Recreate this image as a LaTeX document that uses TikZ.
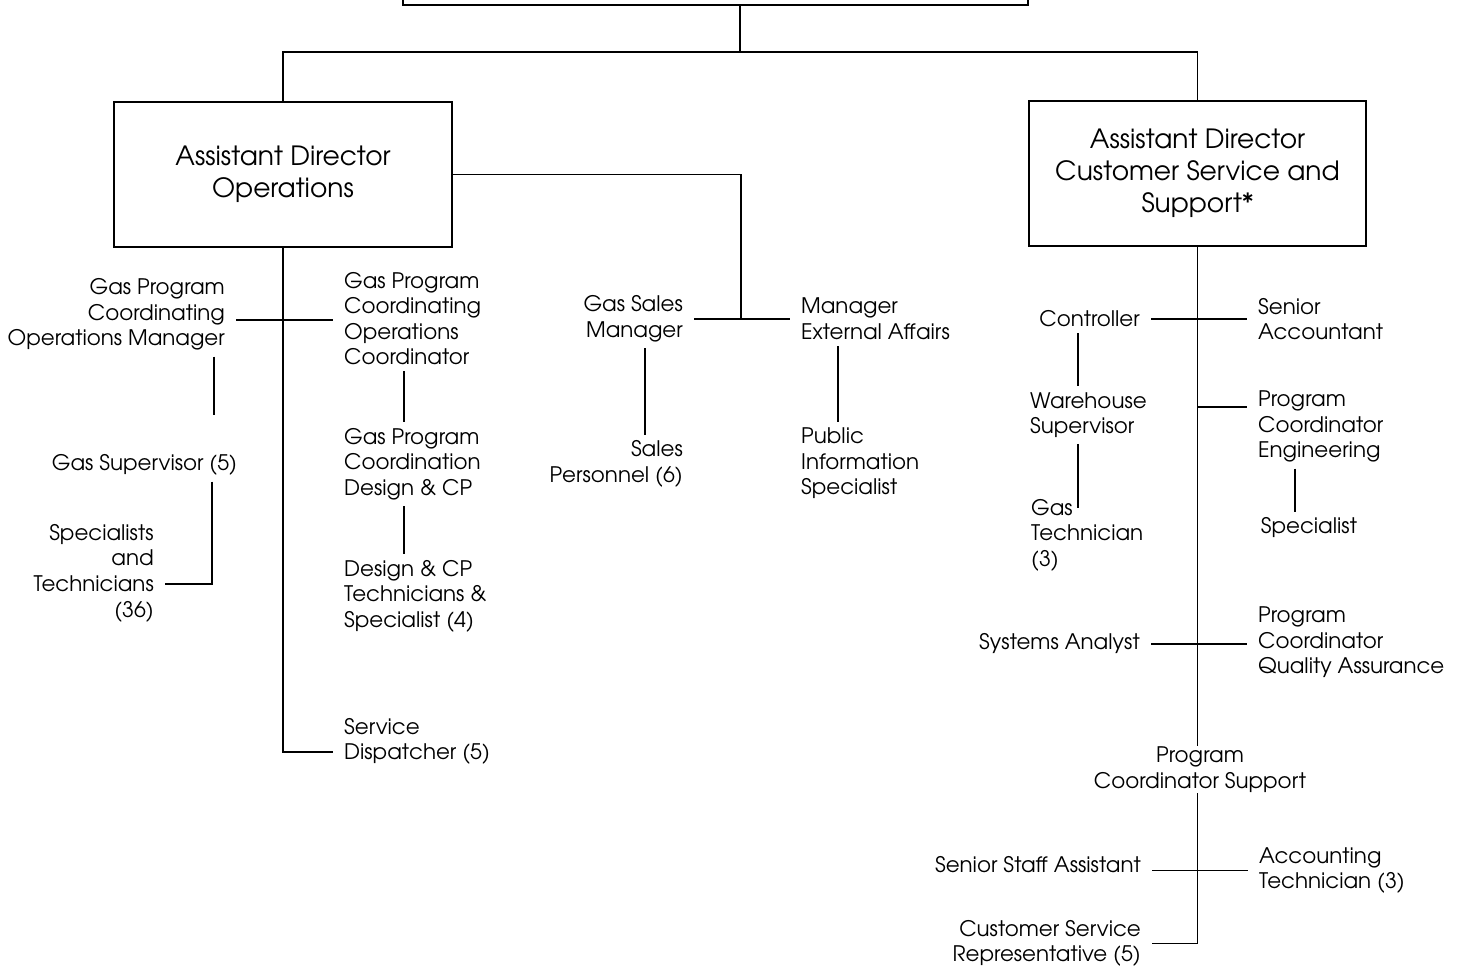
\documentclass[tikz,border=0pt]{standalone}
\usepackage{fontspec}
\setmainfont{TeX Gyre Adventor}
\usepackage{tikz}
\usetikzlibrary{positioning}

\begin{document}
\begin{tikzpicture}[x=1pt,y=-1pt,
    every node/.style={font=\fontsize{21.4}{25.6}\selectfont},
    box/.style={draw,line width=1.6pt,minimum width=338pt,minimum height=145pt,
      align=center,font=\fontsize{26.5}{32}\selectfont},
    lbl/.style={inner xsep=11pt,inner ysep=6pt},
    link/.style={line width=1.1pt}]
      \useasboundingbox (0,0) rectangle (1462,971);

      \node [draw,line width=1.6pt,minimum width=625pt,minimum height=40pt] (dir) at (715.5,-15) {};
      \node [box] (ops) at (283,174.5) {Assistant Director\\Operations};
      \node [box,minimum width=337pt] (css) at (1197.5,173.5) {Assistant Director\\Customer Service and\\Support*};

      \coordinate (split) at (740,52);
      \coordinate (salesjn) at (741,319);
      \draw [link] (split |- dir.south) -- (split);
      \draw [link] (ops.north) |- (split) -| (css.north);

      % operations side
      \node [lbl,anchor=east,align=right] (gpcom) at (236,314.5) {Gas Program\\Coordinating\\Operations Manager};
      \node [lbl,anchor=west,align=left] (gpcoc) at (333,318.5) {Gas Program\\Coordinating\\Operations\\Coordinator};
      \node [lbl] (gs) at (144.5,465) {Gas Supervisor (5)};
      \node [lbl,anchor=east,align=right] (spec) at (165,573) {Specialists\\and\\Technicians\\(36)};
      \node [lbl,anchor=west,align=left] (gpcd) at (333,464) {Gas Program\\Coordination\\Design \& CP};
      \node [lbl,anchor=west,align=left] (dcp) at (333,596) {Design \& CP\\Technicians \&\\Specialist (4)};
      \node [lbl,anchor=west,align=left] (sd) at (333,741.5) {Service\\Dispatcher (5)};
      \node [lbl,anchor=east,align=right] (gsm) at (694,319) {Gas Sales\\Manager};
      \node [lbl,anchor=east,align=right] (sp) at (694,464) {Sales\\Personnel (6)};
      \node [lbl,anchor=west,align=left] (mea) at (790,319) {Manager\\External Affairs};
      \node [lbl,anchor=west,align=left] (pis) at (790,463.5) {Public\\Information\\Specialist};

      \draw [link] (gpcom.east |- 0,320) -- (gpcoc.west |- 0,320);
      \draw [link] (ops.south) |- (sd.west |- 0,752);
      \draw [link] (gpcom.south -| 214,0) -- ([yshift=33pt]gs.north -| 214,0);
      \draw [link] (gs.south -| 212,0) |- (spec.east |- 0,584);
      \draw [link] (gpcoc.south -| 404,0) -- (gpcd.north -| 404,0);
      \draw [link] (gpcd.south -| 404,0) -- (dcp.north -| 404,0);
      \draw [link] (ops.east) -| (salesjn);
      \draw [link] (gsm.east |- salesjn) -- (mea.west |- salesjn);
      \draw [link] (gsm.south -| 645,0) -- (sp.north -| 645,0);
      \draw [link] (mea.south -| 838,0) -- (pis.north -| 838,0);

      % customer service side
      \node [lbl,anchor=east] (ctl) at (1151,319) {Controller};
      \node [lbl,anchor=west,align=left] (wh) at (1019,415) {Warehouse\\Supervisor};
      \node [lbl,anchor=west,align=left] (gt) at (1020,535) {Gas\\Technician\\(3)};
      \node [lbl,anchor=west,align=left] (sa) at (1247,319) {Senior\\Accountant};
      \node [lbl,anchor=west,align=left] (pce) at (1247,426.5) {Program\\Coordinator\\Engineering};
      \node [lbl] (spc) at (1309,528) {Specialist};
      \node [lbl,anchor=east] (sysa) at (1151,644) {Systems Analyst};
      \node [lbl,anchor=west,align=left] (pcqa) at (1247,642.5) {Program\\Coordinator\\Quality Assurance};
      \node [lbl,anchor=east] (ssa) at (1152,865) {Senior Staff Assistant};
      \node [lbl,anchor=west,align=left] (at) at (1248,870.5) {Accounting\\Technician (3)};
      \node [lbl,anchor=east,align=right] (csr) at (1152,943.5) {Customer Service\\Representative (5)};

      \draw [link] (css.south) |- (csr.east);
      \draw [link] (ctl.east) -- (sa.west |- ctl.east);
      \draw [link] (ctl.south -| 1078,0) -- (wh.north -| 1078,0);
      \draw [link] (wh.south -| 1078,0) -- ([yshift=-15pt]gt.north -| 1078,0);
      \draw [link] (css.south |- 0,407) -- (pce.west |- 0,407);
      \draw [link] (pce.south -| 1295,0) -- (spc.north -| 1295,0);
      \draw [link] (sysa.east) -- (pcqa.west |- sysa.east);
      \draw [link] (ssa.east |- at.west) -- (at.west);

      \node [fill=white,inner sep=1pt,align=center] (pcs) at (1200,769.5) {Program\\Coordinator Support};
    \end{tikzpicture}
\end{document}
